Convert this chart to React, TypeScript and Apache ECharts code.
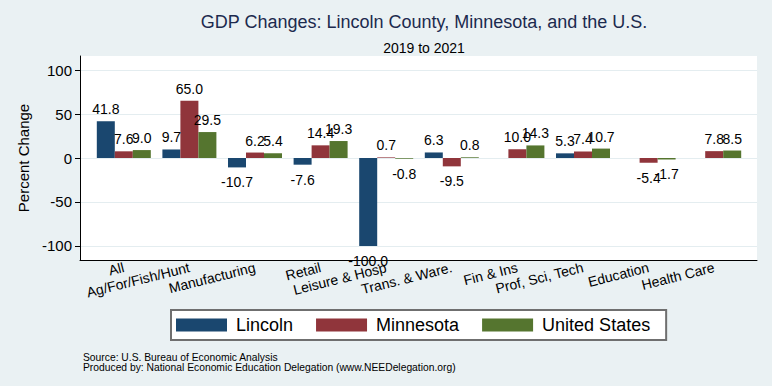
import React, { useEffect, useRef } from "react";
import * as echarts from "echarts";

const categories = [
  "All",
  "Ag/For/Fish/Hunt",
  "Manufacturing",
  "Retail",
  "Leisure & Hosp",
  "Trans. & Ware.",
  "Fin & Ins",
  "Prof, Sci, Tech",
  "Education",
  "Health Care",
];
const lincoln: (number | null)[] = [41.8, 9.7, -10.7, -7.6, -100.0, 6.3, null, 5.3, null, null];
const minnesota: (number | null)[] = [7.6, 65.0, 6.2, 14.4, 0.7, -9.5, 10.0, 7.4, -5.4, 7.8];
const unitedStates: (number | null)[] = [9.0, 29.5, 5.4, 19.3, -0.8, 0.8, 14.3, 10.7, -1.7, 8.5];
const yTicks = [-100, -50, 0, 50, 100];
const seriesNames = ["Lincoln", "Minnesota", "United States"];
const seriesColors = ["#1a476f", "#90353b", "#55752f"];

const FONT = "'Liberation Sans', Arial, Helvetica, sans-serif";

function toData(arr: (number | null)[]) {
  return arr.map((v) =>
    v == null
      ? null
      : {
          value: v,
          label: { position: v < 0 ? "bottom" : "top", distance: v < 0 ? 8 : 5 },
        }
  );
}

export default function App() {
  const ref = useRef<HTMLDivElement>(null);
  useEffect(() => {
    if (!ref.current) return;
    const chart = echarts.init(ref.current, undefined, { renderer: "svg" });
    const allSeries = [lincoln, minnesota, unitedStates];
    chart.setOption({
      animation: false,
      backgroundColor: "#eaf1f3",
      textStyle: { fontFamily: FONT },
      title: [
        {
          text: "GDP Changes: Lincoln County, Minnesota, and the U.S.",
          left: 419,
          textAlign: "center",
          top: 8,
          textStyle: { fontSize: 18, fontWeight: "normal", color: "#1c2a4e", fontFamily: FONT },
        },
        {
          text: "2019 to 2021",
          left: 419,
          textAlign: "center",
          top: 36,
          textStyle: { fontSize: 14, fontWeight: "normal", color: "#000", fontFamily: FONT },
        },
        {
          text: "Source: U.S. Bureau of Economic Analysis\nProduced by: National Economic Education Delegation (www.NEEDelegation.org)",
          left: 78,
          top: 347,
          textStyle: { fontSize: 10.3, lineHeight: 10.5, fontWeight: "normal", color: "#000", fontFamily: FONT },
        },
      ],
      legend: {
        data: seriesNames,
        left: 171,
        top: 310,
        orient: "horizontal",
        icon: "rect",
        itemWidth: 51,
        itemHeight: 13,
        itemGap: 23,
        padding: [6, 16, 6, 5],
        borderColor: "#6f6f6f",
        borderWidth: 2,
        backgroundColor: "#ffffff",
        textStyle: { fontSize: 18, color: "#000", fontFamily: FONT, padding: [0, 0, 0, 4] },
      },
      grid: [
        { left: 80, right: 15, top: 56, bottom: 126, show: true, backgroundColor: "#ffffff", borderWidth: 0 },
        { left: 91, right: 25, top: 56, bottom: 126 },
      ],
      xAxis: [
        {
          gridIndex: 0,
          type: "value",
          min: 0,
          max: 1,
          axisLine: { show: true, onZero: false, lineStyle: { color: "#000", width: 1 } },
          axisTick: { show: false },
          axisLabel: { show: false },
          splitLine: { show: false },
        },
        {
          gridIndex: 1,
          type: "category",
          data: categories,
          axisLine: { show: false, onZero: false },
          axisTick: { show: false },
          splitLine: { show: false },
          axisLabel: {
            interval: 0,
            rotate: 14,
            margin: 7,
            fontSize: 14,
            color: "#000",
            fontFamily: FONT,
          },
        },
      ],
      yAxis: [
        {
          gridIndex: 0,
          type: "value",
          min: -116,
          max: 116,
          name: "Percent Change",
          nameLocation: "middle",
          nameGap: 46,
          nameTextStyle: { fontSize: 15, color: "#000", fontFamily: FONT },
          axisLine: { show: true, onZero: false, lineStyle: { color: "#000", width: 1 } },
          axisTick: { show: true, length: 5, customValues: yTicks, lineStyle: { color: "#000" } },
          axisLabel: { customValues: yTicks, fontSize: 15, margin: 8, color: "#000", fontFamily: FONT },
          splitLine: { show: true, lineStyle: { color: "#e4edf0", width: 1 } },
        },
        {
          gridIndex: 1,
          type: "value",
          min: -116,
          max: 116,
          show: false,
          splitLine: { show: false },
        },
      ],
      series: allSeries.map((arr, i) => ({
        type: "bar",
        name: seriesNames[i],
        xAxisIndex: 1,
        yAxisIndex: 1,
        barWidth: 18,
        barGap: "0%",
        data: toData(arr),
        itemStyle: { color: seriesColors[i] },
        label: {
          show: true,
          fontSize: 14,
          color: "#000",
          fontFamily: FONT,
          formatter: (p: any) => Number(p.value).toFixed(1),
        },
        z: 2,
      })),
    });
    return () => chart.dispose();
  }, []);
  return (
    <div
      ref={ref}
      style={{ position: "fixed", left: 0, top: 0, width: 772, height: 386 }}
    />
  );
}
